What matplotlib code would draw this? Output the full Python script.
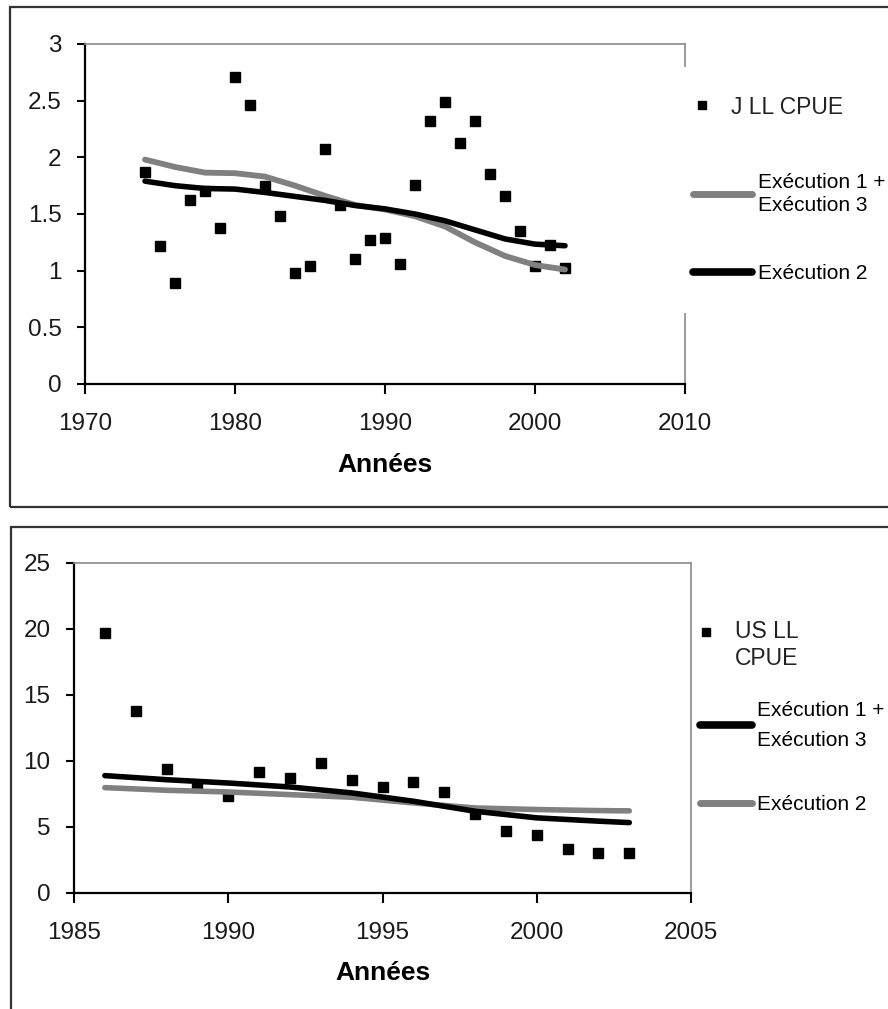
import numpy as np
import matplotlib
matplotlib.use("Agg")
import matplotlib.pyplot as plt
from matplotlib.lines import Line2D
from matplotlib.patches import Rectangle
from matplotlib.legend_handler import HandlerLine2D

plt.rcParams['font.family'] = ['Liberation Sans', 'DejaVu Sans']

# --- top panel: Japanese longline CPUE ---
jll_years = list(range(1974, 2003))
jll_cpue = [1.87, 1.22, 0.89, 1.62, 1.70, 1.38, 2.71, 2.46, 1.75, 1.48,
            0.98, 1.04, 2.07, 1.58, 1.10, 1.27, 1.29, 1.06, 1.76, 2.32,
            2.49, 2.13, 2.32, 1.85, 1.66, 1.35, 1.04, 1.23, 1.02]
jll_fit_years = [1974, 1976, 1978, 1980, 1982, 1984, 1986, 1988,
                 1990, 1992, 1994, 1996, 1998, 2000, 2002]
jll_run13 = [1.98, 1.915, 1.865, 1.86, 1.83, 1.75, 1.66, 1.58,
             1.54, 1.48, 1.39, 1.25, 1.13, 1.05, 1.01]
jll_run2 = [1.79, 1.75, 1.725, 1.72, 1.69, 1.655, 1.62, 1.575,
            1.545, 1.50, 1.44, 1.36, 1.28, 1.234, 1.22]

# --- bottom panel: US longline CPUE ---
us_years = list(range(1986, 2004))
us_cpue = [19.7, 13.78, 9.37, 8.11, 7.30, 9.12, 8.66, 9.80, 8.51,
           8.01, 8.36, 7.63, 6.0, 4.66, 4.36, 3.32, 3.02, 3.02]
us_fit_years = [1986, 1988, 1990, 1992, 1994, 1996, 1998, 2000, 2002, 2003]
us_run13 = [8.87, 8.56, 8.31, 8.01, 7.56, 6.93, 6.17, 5.67, 5.42, 5.31]
us_run2 = [7.96, 7.76, 7.63, 7.43, 7.23, 6.80, 6.42, 6.30, 6.22, 6.20]

GRAY = '#808080'
W, H = 888, 1009


class MarkerHandler(HandlerLine2D):
    # lifts the square so it sits on the first text line
    def __init__(self, lift=0.0, **kw):
        super().__init__(**kw)
        self.lift = lift

    def create_artists(self, legend, orig_handle, xdescent, ydescent,
                       width, height, fontsize, trans):
        arts = super().create_artists(legend, orig_handle, xdescent, ydescent,
                                      width, height, fontsize, trans)
        for a in arts:
            a.set_ydata(np.asarray(a.get_ydata(), float) + self.lift)
        return arts


def style_axes(ax, labelpad):
    for s in ('left', 'bottom'):
        ax.spines[s].set_color('black')
        ax.spines[s].set_linewidth(1.6)
    for s in ('top', 'right'):
        ax.spines[s].set_color('#8a8a8a')
        ax.spines[s].set_linewidth(1.2)
    ax.tick_params(top=False, right=False, direction='out', width=1.5,
                   labelsize=17.5, labelcolor='#1a1a1a')
    ax.tick_params(axis='x', length=7, pad=14)
    ax.tick_params(axis='y', length=6, pad=11)
    ax.set_xlabel('Années', fontsize=19, fontweight='bold', labelpad=labelpad)


fig = plt.figure(figsize=(W / 100, H / 100), dpi=100)

# panel frames
fig.patches.append(Rectangle((10 / W, 1 - 507 / H), 1.2, 500 / H,
                             transform=fig.transFigure, fill=False,
                             edgecolor='#333333', linewidth=1.6))
fig.patches.append(Rectangle((11 / W, -0.2), 1.2, 1 - 527 / H + 0.2,
                             transform=fig.transFigure, fill=False,
                             edgecolor='#333333', linewidth=1.6))

# ---------- top chart ----------
ax1 = fig.add_axes([85 / W, 1 - 384 / H, 600 / W, 340 / H])
ax1.plot(jll_years, jll_cpue, ls='none', marker='s', color='black',
         markersize=7.3, zorder=2)
ax1.plot(jll_fit_years, jll_run13, color=GRAY, lw=4.2,
         solid_capstyle='round', solid_joinstyle='round', zorder=3)
ax1.plot(jll_fit_years, jll_run2, color='black', lw=4.0,
         solid_capstyle='round', solid_joinstyle='round', zorder=3)
ax1.set_xlim(1970, 2010)
ax1.set_ylim(0, 3)
ax1.set_xticks([1970, 1980, 1990, 2000, 2010])
ax1.set_yticks([0, 0.5, 1, 1.5, 2, 2.5, 3])
ax1.set_yticklabels(['0', '0.5', '1', '1.5', '2', '2.5', '3'])
style_axes(ax1, 13)
# legend area hides part of the right frame line
ax1.add_patch(Rectangle((0.99, (384 - 313) / 340), 0.05, (313 - 67) / 340,
                        transform=ax1.transAxes, facecolor='white',
                        edgecolor='none', clip_on=False, zorder=4))

pt1 = Line2D([], [], ls='none', marker='s', color='black', markersize=6)
leg1a = ax1.legend([pt1], ['J LL CPUE'], loc='center left',
                   bbox_to_anchor=(684 / W, 1 - 107 / H),
                   bbox_transform=fig.transFigure, frameon=False,
                   fontsize=16.5, handlelength=1.55, handletextpad=0.5,
                   borderpad=0, borderaxespad=0,
                   handler_map={pt1: MarkerHandler(0)})
for t in leg1a.get_texts():
    t.set_color('#222222')
ax1.add_artist(leg1a)

ln_g = Line2D([], [], color=GRAY, lw=5, solid_capstyle='round')
ln_k = Line2D([], [], color='black', lw=5.5, solid_capstyle='round')
leg1b = ax1.legend([ln_g, ln_k], ['Exécution 1 +\nExécution 3', 'Exécution 2'],
                   loc='upper left', bbox_to_anchor=(693 / W, 1 - 173 / H),
                   bbox_transform=fig.transFigure, frameon=False,
                   fontsize=15, handlelength=2.85, handletextpad=0.25,
                   labelspacing=2.35, borderpad=0, borderaxespad=0)
leg1b.get_texts()[0].set_linespacing(1.3)

# ---------- bottom chart ----------
ax2 = fig.add_axes([74 / W, 1 - 892.7 / H, 617 / W, 330 / H])
ax2.plot(us_years, us_cpue, ls='none', marker='s', color='black',
         markersize=7.3, zorder=2)
ax2.plot(us_fit_years, us_run2, color=GRAY, lw=4.0,
         solid_capstyle='round', solid_joinstyle='round', zorder=3)
ax2.plot(us_fit_years, us_run13, color='black', lw=4.0,
         solid_capstyle='round', solid_joinstyle='round', zorder=3)
ax2.set_xlim(1985, 2005)
ax2.set_ylim(0, 25)
ax2.set_xticks([1985, 1990, 1995, 2000, 2005])
ax2.set_yticks([0, 5, 10, 15, 20, 25])
style_axes(ax2, 12)

pt2 = Line2D([], [], ls='none', marker='s', color='black', markersize=6)
leg2a = ax2.legend([pt2], ['US LL\nCPUE'], loc='upper left',
                   bbox_to_anchor=(688 / W, 1 - 620 / H),
                   bbox_transform=fig.transFigure, frameon=False,
                   fontsize=16.5, handlelength=1.55, handletextpad=0.5,
                   borderpad=0, borderaxespad=0,
                   handler_map={pt2: MarkerHandler(10)})
leg2a.get_texts()[0].set_linespacing(1.2)
leg2a.get_texts()[0].set_color('#222222')
ax2.add_artist(leg2a)

ln_k2 = Line2D([], [], color='black', lw=5.5, solid_capstyle='round')
ln_g2 = Line2D([], [], color=GRAY, lw=5, solid_capstyle='round')
leg2b = ax2.legend([ln_k2, ln_g2], ['Exécution 1 +\nExécution 3', 'Exécution 2'],
                   loc='upper left', bbox_to_anchor=(700 / W, 1 - 701 / H),
                   bbox_transform=fig.transFigure, frameon=False,
                   fontsize=15, handlelength=2.5, handletextpad=0.25,
                   labelspacing=2.2, borderpad=0, borderaxespad=0)
leg2b.get_texts()[0].set_linespacing(1.7)

fig.savefig('out.png', dpi=100)
